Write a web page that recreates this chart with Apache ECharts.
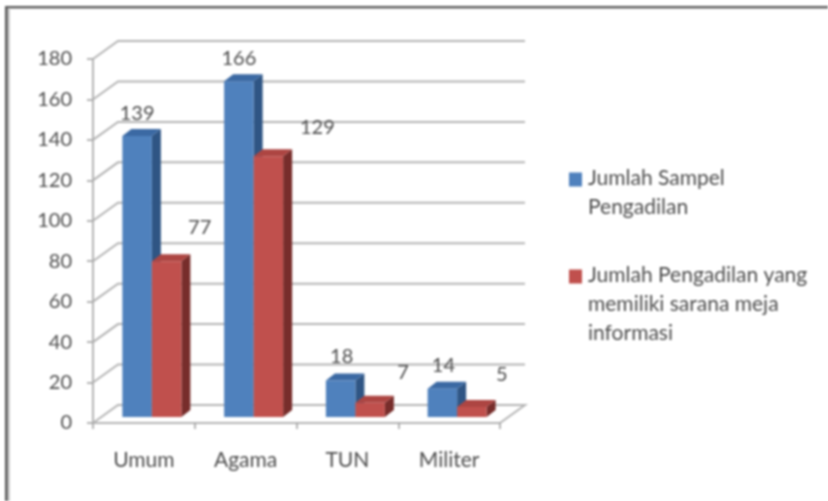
<!DOCTYPE html>
<html>
<head>
<meta charset="utf-8">
<style>
html,body{margin:0;padding:0;background:#fff}
#c{width:828px;height:501px;filter:blur(0.8px)}
</style>
<script src="https://cdn.jsdelivr.net/npm/echarts@6/dist/echarts.min.js"></script>
</head>
<body>
<div id="c"></div>
<script>
const categories = ['Umum', 'Agama', 'TUN', 'Militer'];
const sampel = [139, 166, 18, 14];
const meja = [77, 129, 7, 5];
const sampelName = 'Jumlah Sampel\nPengadilan';
const mejaName = 'Jumlah Pengadilan yang\nmemiliki sarana meja\ninformasi';
const yTicks = [0, 20, 40, 60, 80, 100, 120, 140, 160, 180];

// label nudges relative to each bar's front-top centre
const sampelNudge = [[0, -22], [0, -23], [1, -24], [1, -23]];
const mejaNudge = [[33, -34], [49, -29], [33, -30], [30, -32]];

const WALL = [25, -18], BAR_DEPTH = [9, -7], BAR_LIFT = -6, BAR_W = 29.5, BAR_SHIFT = 8;
const FONT = 'Lato, "Open Sans", sans-serif';
const GRID_COLOR = '#b4b4b4', TEXT_COLOR = '#4d4d4d';

function wallItem(params, api) {
  const cs = params.coordSys;
  const y = api.coord([0, api.value(1)])[1];
  const pts = [[cs.x, y], [cs.x + WALL[0], y + WALL[1]], [cs.x + cs.width + WALL[0], y + WALL[1]]];
  if (api.value(1) === 0) pts.push([cs.x + cs.width, y]);
  return {type: 'polyline', shape: {points: pts}, silent: true,
    style: {stroke: GRID_COLOR, lineWidth: 2, fill: null}};
}

function barRenderer(side, front, top, dark, nudges) {
  return function (params, api) {
    const p = api.coord([api.value(0), api.value(1)]);
    const zero = api.coord([api.value(0), 0]);
    const x0 = p[0] + BAR_SHIFT + (side < 0 ? -BAR_W : 0), x1 = x0 + BAR_W;
    const yT = p[1] + BAR_LIFT, yB = zero[1] + BAR_LIFT;
    const dx = BAR_DEPTH[0], dy = BAR_DEPTH[1];
    const n = nudges[params.dataIndex];
    return {type: 'group', children: [
      {type: 'polygon', shape: {points: [[x1, yT], [x1 + dx, yT + dy], [x1 + dx, yB + dy], [x1, yB]]}, style: {fill: dark}},
      {type: 'polygon', shape: {points: [[x0, yT], [x0 + dx, yT + dy], [x1 + dx, yT + dy], [x1, yT]]}, style: {fill: top}},
      {type: 'rect', shape: {x: x0, y: yT, width: BAR_W, height: yB - yT}, style: {fill: front}},
      {type: 'text', x: (x0 + x1) / 2 + n[0], y: yT + n[1], style: {
        text: String(api.value(1)), fill: TEXT_COLOR, font: '20px ' + FONT, align: 'center', verticalAlign: 'middle'}}
    ]};
  };
}

// invisible corners widen the icon box so the swatch lines up with the first text line
const icon = sq => 'path://M0,0L0,0M14,90L14,90M0,' + sq + 'H13V' + (sq + 14) + 'H0Z';

const chart = echarts.init(document.getElementById('c'), null, {renderer: 'canvas', width: 828, height: 501});
chart.setOption({
  animation: false,
  backgroundColor: '#fff',
  grid: {left: 93, top: 59, width: 407, height: 364},
  xAxis: {
    type: 'category', data: categories,
    axisLine: {lineStyle: {color: GRID_COLOR, width: 2}},
    axisTick: {show: true, alignWithLabel: false, length: 6, lineStyle: {color: '#9a9a9a', width: 1.5}},
    axisLabel: {color: TEXT_COLOR, fontFamily: FONT, fontSize: 21, margin: 27}
  },
  yAxis: {
    type: 'value', min: 0, max: 180, interval: 20,
    axisLine: {show: true, lineStyle: {color: GRID_COLOR, width: 2}},
    axisTick: {show: true, length: 6, lineStyle: {color: '#9a9a9a', width: 1.5}},
    axisLabel: {color: TEXT_COLOR, fontFamily: FONT, fontSize: 20, margin: 21},
    splitLine: {show: false}
  },
  legend: {
    orient: 'vertical', left: 569, top: 147.5, padding: 0, itemGap: 22, itemWidth: 14, itemHeight: 90,
    selectedMode: false,
    textStyle: {color: TEXT_COLOR, fontFamily: FONT, fontSize: 21, lineHeight: 29},
    data: [{name: sampelName, icon: icon(25)}, {name: mejaName, icon: icon(10)}]
  },
  graphic: [
    {type: 'rect', shape: {x: 5, y: 6, width: 823, height: 2}, style: {fill: '#5a5a5a'}, silent: true},
    {type: 'rect', shape: {x: 8, y: 8, width: 820, height: 1}, style: {fill: '#bbb'}, silent: true},
    {type: 'rect', shape: {x: 5, y: 6, width: 2, height: 495}, style: {fill: '#5a5a5a'}, silent: true},
    {type: 'rect', shape: {x: 7, y: 8, width: 1, height: 493}, style: {fill: '#8a8a8a'}, silent: true},
    {type: 'rect', shape: {x: 8, y: 8, width: 2, height: 493}, style: {fill: '#ccc'}, silent: true}
  ],
  series: [
    {type: 'custom', name: 'wall', coordinateSystem: 'cartesian2d', clip: false, z: 1,
     data: yTicks.map(v => [0, v]), renderItem: wallItem},
    {type: 'custom', name: sampelName, coordinateSystem: 'cartesian2d', clip: false, z: 3,
     itemStyle: {color: '#4f81bd'},
     data: sampel.map((v, i) => [i, v]),
     renderItem: barRenderer(-1, '#4f81bd', '#3b69a3', '#2f5584', sampelNudge)},
    {type: 'custom', name: mejaName, coordinateSystem: 'cartesian2d', clip: false, z: 4,
     itemStyle: {color: '#c0504d'},
     data: meja.map((v, i) => [i, v]),
     renderItem: barRenderer(1, '#c0504d', '#ad4542', '#772d2b', mejaNudge)}
  ]
});
</script>
</body>
</html>
